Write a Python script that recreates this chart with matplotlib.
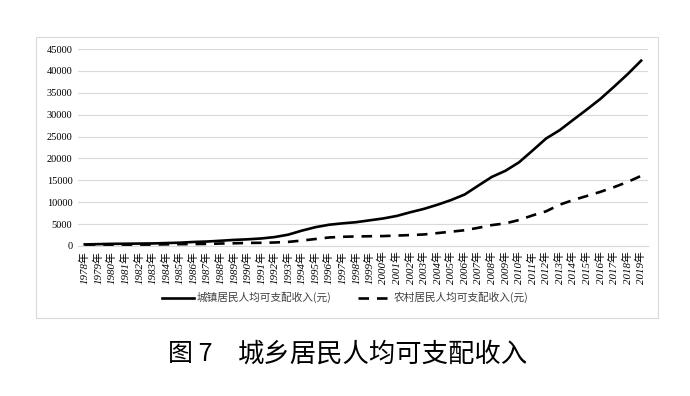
import matplotlib.pyplot as plt
from matplotlib.patches import Rectangle

plt.rcParams['font.family'] = ['Liberation Serif', 'Noto Sans CJK SC']

years = list(range(1978, 2020))
urban = [343, 405, 478, 500, 535, 565, 652, 739, 901, 1002, 1180, 1374, 1510, 1701,
         2027, 2577, 3496, 4283, 4839, 5160, 5425, 5854, 6280, 6860, 7703, 8472,
         9422, 10493, 11759, 13786, 15781, 17175, 19109, 21810, 24565, 26467,
         28844, 31195, 33616, 36396, 39251, 42359]
rural = [134, 160, 191, 223, 270, 310, 355, 398, 424, 463, 545, 602, 686, 709,
         784, 922, 1221, 1578, 1926, 2090, 2162, 2210, 2253, 2366, 2476, 2622,
         2936, 3255, 3587, 4140, 4761, 5153, 5919, 6977, 7917, 9430, 10489,
         11422, 12363, 13432, 14617, 16021]
xlabels = [f'{y}年' for y in years]
yticks = list(range(0, 45001, 5000))
title_num = '图 7'
title_text = '城乡居民人均可支配收入'

W, H = 690, 396
fig = plt.figure(figsize=(W / 100, H / 100), dpi=100)
fig.patches.append(Rectangle((0.052, 0.197), 0.902, 0.71, transform=fig.transFigure,
                             fill=False, edgecolor='#d9d9d9', linewidth=0.8))

ax = fig.add_axes([0.113, 0.379, 0.826, 0.497])
x = list(range(len(years)))
ax.plot(x, urban, color='black', linewidth=1.9, label='城镇居民人均可支配收入(元)')
ax.plot(x, rural, color='black', linewidth=1.9, linestyle=(0, (4, 3)),
        label='农村居民人均可支配收入(元)')

ax.set_xlim(-0.5, len(years) - 0.5)
ax.set_ylim(0, 45000)
ax.set_yticks(yticks)
ax.set_yticklabels([str(v) for v in yticks], fontsize=7.5)
ax.set_xticks(x)
ax.set_xticklabels(xlabels, rotation=90, fontsize=7.8, style='italic')
ax.tick_params(length=0, pad=4)
ax.grid(axis='y', color='#d9d9d9', linewidth=0.8)
ax.set_axisbelow(True)
for s in ['top', 'right', 'left']:
    ax.spines[s].set_visible(False)
ax.spines['bottom'].set_color('#d9d9d9')

fig.legend(loc='center', bbox_to_anchor=(0.5, 0.248), ncol=2, frameon=False,
           prop={'family': ['Noto Sans CJK SC'], 'size': 7.7}, handlelength=3,
           columnspacing=2.5, handletextpad=0.3, labelcolor='#404040')

# caption
ty = 1 - 354 / H
fig.text(168 / W, ty, title_num, ha='left', va='center', fontsize=18,
         family=['Noto Sans CJK SC'], fontweight='medium')
fig.text(238 / W, ty, title_text, ha='left', va='center', fontsize=19,
         family=['Noto Sans CJK SC'], fontweight='medium')

fig.savefig('out.png', dpi=100)
